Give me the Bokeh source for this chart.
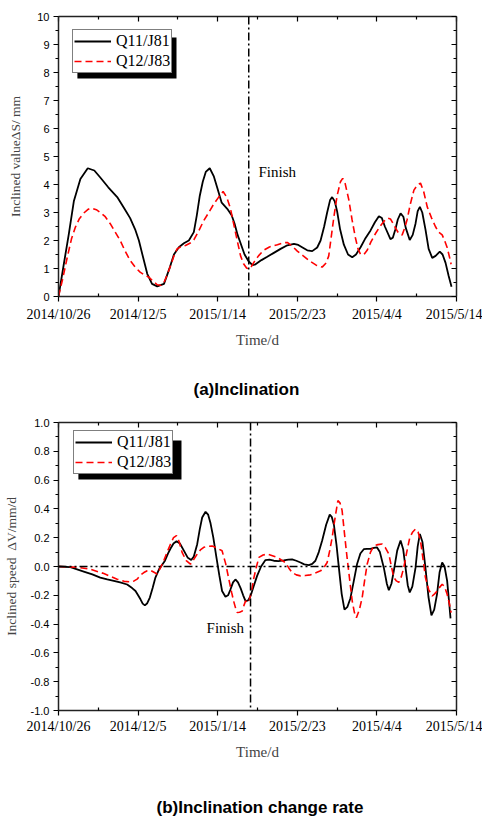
from bokeh.plotting import figure
from bokeh.models import (Range1d, FixedTicker, LinearAxis, Legend, LegendItem, Span, Label,
                          BoxAnnotation, NumeralTickFormatter, CustomJSTickFormatter)
from bokeh.layouts import column
from bokeh.embed import file_html
from bokeh.resources import INLINE

# ---------------- data ----------------
x_tick_days = [0, 40, 80, 120, 160, 200]
x_minor_days = [20, 60, 100, 140, 180]
x_tick_labels = ["2014/10/26", "2014/12/5", "2015/1/14", "2015/2/23", "2015/4/4", "2015/5/14"]

# (a) inclination value, mm
a_q11_days = [0, 2.7, 5.2, 7.7, 11, 14.7, 18, 21, 25, 29.5, 33, 36, 38.5, 40.4, 42.5, 44.6, 47, 49.6,
              53, 56, 58, 60.5, 63, 65.5, 68, 69.5, 71, 72.5, 74, 76, 78, 79.7, 82, 84.8, 87, 88.5, 90,
              91.5, 93.5, 95.6, 97.5, 99, 102, 104.9, 108, 111.6, 115, 118.3, 120.5, 122.4, 125, 127.5,
              130, 131.7, 133.5, 135, 136.5, 137.5, 138.8, 140, 141.5, 143.4, 145.5, 147.6, 149.5,
              151.8, 154, 156.8, 159, 161, 162.5, 164, 166.8, 168, 169.3, 170.5, 171.9, 173.3, 174.5,
              176.5, 178, 179.4, 180.5, 181.6, 182.8, 184.4, 186, 187.8, 189.5, 191.6, 193, 194.5, 196,
              197.5]
a_q11_vals = [0, 1.17, 2.24, 3.4, 4.2, 4.58, 4.5, 4.25, 3.9, 3.55, 3.15, 2.8, 2.4, 2.0, 1.4, 0.81, 0.45,
              0.36, 0.45, 1.05, 1.5, 1.76, 1.9, 2.0, 2.3, 2.9, 3.6, 4.1, 4.45, 4.58, 4.3, 3.9, 3.35, 3.13,
              2.9, 2.6, 2.2, 1.9, 1.5, 1.25, 1.12, 1.15, 1.3, 1.42, 1.55, 1.7, 1.83, 1.88, 1.84, 1.76,
              1.65, 1.62, 1.75, 2.0, 2.5, 3.0, 3.45, 3.55, 3.4, 3.05, 2.4, 1.85, 1.5, 1.4, 1.5, 1.76,
              2.05, 2.36, 2.65, 2.87, 2.8, 2.5, 2.05, 2.1, 2.4, 2.75, 2.97, 2.85, 2.45, 2.02, 2.2, 2.6,
              3.05, 3.2, 3.0, 2.4, 1.7, 1.38, 1.45, 1.6, 1.5, 1.2, 0.75, 0.35]

a_q12_days = [0, 2, 4.4, 6.5, 8.5, 10.5, 12.7, 15, 16.9, 19, 21, 23.5, 26, 28.5, 31, 33.5, 36, 38.5, 41,
              43, 45.4, 47.5, 49.6, 51.5, 53, 54.5, 56.3, 58, 59.6, 61.5, 63.8, 66, 68, 70.5, 73, 75.5,
              78, 80.5, 82.7, 84.5, 86.4, 88, 89.8, 91.5, 93, 94.5, 95.6, 97, 98, 100.5, 103, 106, 110,
              113, 115, 117.5, 120, 123, 126.6, 129.5, 132.5, 134.5, 135.8, 137, 138.4, 140, 141.7,
              142.8, 144, 145.9, 147.5, 149.2, 150.5, 151.8, 153.5, 155.1, 157, 159.3, 161.5, 163.5,
              165.5, 166.8, 168, 169.3, 171, 172.7, 174, 175.2, 176.8, 178.6, 180.3, 181.9, 183.5,
              185.3, 187.5, 189.4, 191, 192.8, 194, 195.3, 196.5, 197.3]
a_q12_vals = [0, 0.6, 1.4, 2.05, 2.48, 2.78, 2.98, 3.12, 3.15, 3.1, 3.0, 2.85, 2.6, 2.3, 2.0, 1.62, 1.29,
              1.05, 0.87, 0.78, 0.69, 0.55, 0.42, 0.4, 0.5, 0.75, 1.1, 1.45, 1.7, 1.78, 1.82, 1.9, 2.02,
              2.35, 2.71, 3.0, 3.3, 3.55, 3.75, 3.55, 3.15, 2.6, 2.0, 1.45, 1.17, 1.02, 0.98, 1.08, 1.2,
              1.45, 1.65, 1.77, 1.85, 1.92, 1.93, 1.8, 1.62, 1.45, 1.25, 1.12, 1.05, 1.2, 1.45, 2.1,
              2.85, 3.6, 4.1, 4.22, 4.05, 3.45, 2.75, 2.1, 1.7, 1.5, 1.5, 1.65, 1.95, 2.25, 2.5, 2.68,
              2.8, 2.77, 2.62, 2.45, 2.25, 2.2, 2.45, 2.75, 3.3, 3.8, 3.98, 4.05, 3.75, 3.2, 2.8, 2.5,
              2.3, 2.2, 2.0, 1.75, 1.4, 1.15]

# (b) inclination change rate, mm/d
b_q11_days = [0, 6, 12.7, 17, 21, 24.5, 27.8, 31, 34.5, 37, 38.7, 40, 41.2, 42.3, 43.4, 44.6, 45.9, 47.3,
              48.7, 50.5, 52, 53.5, 55, 56.3, 57.8, 59.3, 61, 63, 65, 66.7, 68, 69.7, 71, 72.2, 73.9,
              75.2, 76.4, 77.8, 79.4, 80.8, 82.2, 83.9, 85.2, 86.4, 87.7, 88.9, 90.2, 91.5, 92.8, 94,
              95.3, 96.5, 98, 99.8, 101.8, 104, 106, 108.2, 110.5, 113.2, 115.5, 117.4, 119.5, 121.6,
              123.5, 125.8, 127.5, 129.1, 130.8, 132.5, 134.5, 136.3, 137.3, 138.4, 139.7, 140.9,
              142.3, 143.7, 145.2, 146.7, 148.4, 150, 151.7, 153.4, 155, 156.8, 158.5, 160, 161.5,
              163.5, 165, 166, 167.3, 168.5, 170.2, 171.9, 173.2, 174.4, 175.5, 176.5, 177.8, 179.4,
              180.5, 181.6, 182.9, 184.4, 185.9, 187.4, 188.8, 190.2, 191.5, 192.8, 194, 195.3, 196.3,
              197]
b_q11_vals = [0, -0.005, -0.035, -0.055, -0.077, -0.09, -0.1, -0.11, -0.125, -0.15, -0.17, -0.2, -0.228,
              -0.258, -0.27, -0.255, -0.216, -0.15, -0.077, -0.02, 0.01, 0.04, 0.09, 0.125, 0.16, 0.175,
              0.16, 0.11, 0.06, 0.045, 0.07, 0.155, 0.26, 0.34, 0.38, 0.36, 0.3, 0.2, 0.06, -0.06, -0.17,
              -0.21, -0.2, -0.16, -0.11, -0.09, -0.11, -0.15, -0.2, -0.24, -0.235, -0.205, -0.14,
              -0.065, 0.0, 0.045, 0.048, 0.04, 0.038, 0.042, 0.048, 0.049, 0.04, 0.028, 0.015, 0.009,
              0.018, 0.04, 0.1, 0.18, 0.29, 0.36, 0.345, 0.29, 0.15, -0.01, -0.19, -0.3, -0.28, -0.22,
              -0.1, 0.015, 0.09, 0.12, 0.123, 0.122, 0.13, 0.133, 0.1, -0.01, -0.12, -0.165, -0.12,
              -0.03, 0.11, 0.18, 0.12, -0.01, -0.13, -0.18, -0.14, -0.01, 0.14, 0.226, 0.17, -0.01,
              -0.21, -0.34, -0.3, -0.193, -0.04, 0.028, 0.0, -0.1, -0.25, -0.36]

b_q12_days = [0, 9.4, 16, 22.8, 26, 29.5, 33, 36.2, 38, 39.5, 41.2, 42.9, 44.6, 46.2, 48, 49.6, 51.2,
              52.9, 54.6, 56.3, 57.8, 59.3, 60.7, 62.1, 64.2, 66.3, 68, 69.7, 71.3, 73, 75, 77.2, 79.7,
              82.2, 84, 85.6, 87, 88, 89, 89.8, 91, 92.3, 93.2, 94, 94.8, 95.6, 97, 98.2, 99.5, 100.7,
              102.8, 104.9, 107.5, 110, 112, 114, 115.7, 117.4, 119.5, 121.6, 124, 126.6, 129, 131.7,
              133.5, 135, 136.3, 137.5, 139, 140.4, 141.5, 142.5, 143.7, 145, 146.3, 147.6, 148.7,
              149.7, 151.2, 152.6, 153.8, 155.1, 156.8, 158.5, 160.5, 162.6, 164.3, 166, 167.3, 168.5,
              169.8, 171, 172.3, 173.5, 175, 176.5, 178, 179.4, 180.7, 181.9, 183.2, 184.4, 186, 187.8,
              189, 190.3, 191.5, 192.8, 194, 195.3, 196.3, 197.3]
b_q12_vals = [0, -0.005, -0.019, -0.049, -0.068, -0.088, -0.103, -0.107, -0.1, -0.088, -0.06, -0.042,
              -0.03, -0.026, -0.04, -0.053, -0.01, 0.04, 0.1, 0.156, 0.2, 0.214, 0.17, 0.098, 0.04,
              0.016, 0.05, 0.086, 0.115, 0.133, 0.14, 0.142, 0.128, 0.109, 0.02, -0.088, -0.18, -0.24,
              -0.29, -0.32, -0.318, -0.31, -0.27, -0.24, -0.245, -0.25, -0.17, -0.077, 0.0, 0.063, 0.08,
              0.086, 0.075, 0.063, 0.045, 0.028, -0.01, -0.042, -0.058, -0.065, -0.063, -0.058, -0.045,
              -0.03, -0.005, 0.028, 0.11, 0.2, 0.34, 0.458, 0.44, 0.39, 0.23, 0.063, -0.09, -0.24,
              -0.32, -0.356, -0.3, -0.216, -0.1, 0.016, 0.1, 0.144, 0.152, 0.156, 0.13, 0.086, 0.0,
              -0.077, -0.1, -0.11, -0.07, -0.007, 0.1, 0.2, 0.24, 0.26, 0.24, 0.18, 0.05, -0.077, -0.16,
              -0.205, -0.19, -0.17, -0.145, -0.123, -0.14, -0.193, -0.25, -0.32]

finish_day_a = 95.6
finish_day_b = 96.5
series_names = ["Q11/J81", "Q12/J83"]
captions = ["(a)Inclination", "(b)Inclination change rate"]

SERIF = "Liberation Serif"
SANS = "Liberation Sans"

FRAME_LEFT, FRAME_RIGHT = 58, 456   # page pixels of the plot frames


def mirror_axis(ticks, minor):
    return LinearAxis(ticker=FixedTicker(ticks=ticks, minor_ticks=minor),
                      formatter=CustomJSTickFormatter(code="return ''"),
                      major_label_text_font_size="1px", major_label_standoff=0,
                      major_tick_in=5, major_tick_out=0, minor_tick_in=3, minor_tick_out=0,
                      axis_line_width=1.5, axis_line_color="#222222",
                      major_tick_line_width=1.2, minor_tick_line_width=1.2)


def style_axes(p, y_ticks, y_minor, ylabel, ylabel_standoff, xlab_standoff, xaxis_label_standoff):
    xa = p.xaxis[0]
    xa.ticker = FixedTicker(ticks=x_tick_days, minor_ticks=x_minor_days)
    xa.major_label_overrides = {d: l for d, l in zip(x_tick_days, x_tick_labels)}
    xa.major_label_text_font = SERIF
    xa.major_label_text_font_size = "14px"
    xa.major_label_text_color = "black"
    xa.major_label_standoff = xlab_standoff
    xa.axis_label = "Time/d"
    xa.axis_label_text_font = SERIF
    xa.axis_label_text_font_style = "normal"
    xa.axis_label_text_font_size = "15px"
    xa.axis_label_standoff = xaxis_label_standoff
    xa.major_tick_in = 0
    xa.major_tick_out = 5
    xa.minor_tick_in = 3
    xa.minor_tick_out = 0

    ya = p.yaxis[0]
    ya.ticker = FixedTicker(ticks=y_ticks, minor_ticks=y_minor)
    ya.major_label_text_font = SANS
    ya.major_label_text_font_size = "11px"
    ya.major_label_text_color = "black"
    ya.major_label_standoff = 4
    ya.axis_label = ylabel
    ya.axis_label_text_font = SERIF
    ya.axis_label_text_font_style = "normal"
    ya.axis_label_text_font_size = "13.5px"
    ya.axis_label_standoff = ylabel_standoff
    ya.major_tick_in = 0
    ya.major_tick_out = 5
    ya.minor_tick_in = 0
    ya.minor_tick_out = 3

    for ax in (xa, ya):
        ax.axis_line_width = 1.5
        ax.axis_line_color = "#222222"
        ax.major_tick_line_width = 1.2
        ax.minor_tick_line_width = 1.2

    p.add_layout(mirror_axis(x_tick_days, x_minor_days), "above")
    p.add_layout(mirror_axis(y_ticks, y_minor), "right")
    p.xgrid.visible = False
    p.ygrid.visible = False
    p.outline_line_color = None


def make_legend(p, r1, r2, loc):
    leg = Legend(items=[LegendItem(label=series_names[0], renderers=[r1]),
                        LegendItem(label=series_names[1], renderers=[r2])],
                 location=loc, orientation="vertical")
    leg.label_text_font = SERIF
    leg.label_text_font_size = "16px"
    leg.label_text_color = "black"
    leg.padding = 1
    leg.spacing = 0
    leg.margin = 0
    leg.label_height = 20
    leg.glyph_height = 20
    leg.glyph_width = 37
    leg.label_standoff = 5
    leg.border_line_color = "black"
    leg.border_line_width = 1.5
    leg.background_fill_color = "white"
    leg.background_fill_alpha = 1.0
    p.add_layout(leg, "center")


def caption_fig(text, height, left, mid_y):
    # frame spans the same page pixels as the chart frames, so x is in page pixels
    c = figure(width=482, height=height, x_range=Range1d(FRAME_LEFT, FRAME_RIGHT),
               y_range=Range1d(0, height), x_axis_type=None, y_axis_type=None,
               output_backend="svg", toolbar_location=None,
               min_border_left=FRAME_LEFT, min_border_right=482 - FRAME_RIGHT,
               min_border_top=0, min_border_bottom=0)
    c.grid.visible = False
    c.outline_line_color = None
    c.add_layout(Label(x=left, y=mid_y, text=text, text_baseline="middle", text_align="left",
                       text_font=SANS, text_font_style="bold", text_font_size="17px",
                       text_color="black"))
    return c


# ---------------- figure (a) ----------------
y_ticks_a = list(range(0, 11))
y_minor_a = [i + 0.5 for i in range(0, 10)]

p1 = figure(width=482, height=360, x_range=Range1d(0, 200), y_range=Range1d(0, 10),
            output_backend="svg", toolbar_location=None,
            min_border_left=FRAME_LEFT, min_border_right=482 - FRAME_RIGHT,
            min_border_top=16, min_border_bottom=64)
style_axes(p1, y_ticks_a, y_minor_a, "Inclined value\u0394S/ mm", 11, 5, 7)

# legend shadow (drawn before the legend)
p1.add_layout(BoxAnnotation(left=9.5, right=59.3, top=9.25, bottom=7.79,
                            fill_color="black", fill_alpha=1.0, line_color=None))

p1.add_layout(Span(location=finish_day_a, dimension="height", line_color="black",
                   line_width=1.5, line_dash="8 3 2 3"))
r1 = p1.line(a_q11_days, a_q11_vals, line_color="black", line_width=1.8)
r2 = p1.line(a_q12_days, a_q12_vals, line_color="red", line_width=1.6, line_dash="7 4")
make_legend(p1, r1, r2, (14, 223))
p1.add_layout(Label(x=100.5, y=4.43, text="Finish", text_baseline="middle", text_font=SERIF,
                    text_font_size="15px", text_color="black"))

cap_a = caption_fig(captions[0], 50, 193, 21)

# ---------------- figure (b) ----------------
y_ticks_b = [round(-1.0 + 0.2 * i, 1) for i in range(11)]
y_minor_b = [round(-0.9 + 0.2 * i, 1) for i in range(10)]

p2 = figure(width=482, height=360, x_range=Range1d(0, 200), y_range=Range1d(-1, 1),
            output_backend="svg", toolbar_location=None,
            min_border_left=FRAME_LEFT, min_border_right=482 - FRAME_RIGHT,
            min_border_top=12, min_border_bottom=60)
style_axes(p2, y_ticks_b, y_minor_b, "Inclined speed \u00a0\u0394V/mm/d", 9, 3, 7)
p2.yaxis[0].formatter = NumeralTickFormatter(format="0.0")

p2.add_layout(BoxAnnotation(left=10.0, right=61.8, top=0.875, bottom=0.604,
                            fill_color="black", fill_alpha=1.0, line_color=None))
p2.add_layout(Span(location=0, dimension="width", line_color="black",
                   line_width=1.5, line_dash="8 3 2 3 2 3"))
p2.add_layout(Span(location=finish_day_b, dimension="height", line_color="black",
                   line_width=1.5, line_dash="8 3 2 3"))
s1 = p2.line(b_q11_days, b_q11_vals, line_color="black", line_width=1.8)
s2 = p2.line(b_q12_days, b_q12_vals, line_color="red", line_width=1.6, line_dash="7 4")
make_legend(p2, s1, s2, (15, 236))
p2.add_layout(Label(x=74.4, y=-0.43, text="Finish", text_baseline="middle", text_font=SERIF,
                    text_font_size="15px", text_color="black"))

cap_b = caption_fig(captions[1], 50, 156, 13)

layout = column(p1, cap_a, p2, cap_b, spacing=0)
open("out.html", "w").write(file_html(layout, INLINE))
